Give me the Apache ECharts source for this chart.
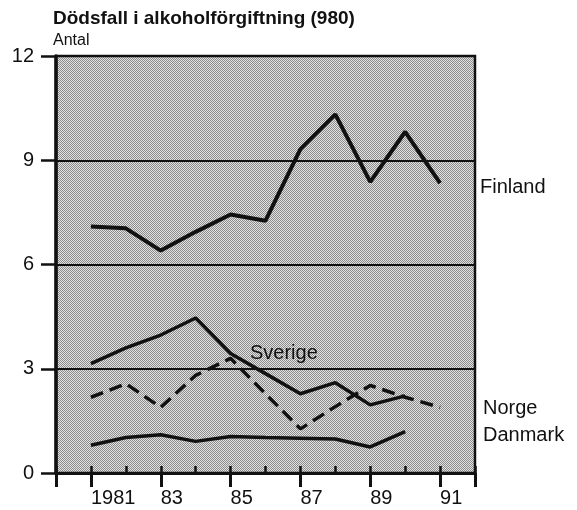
<!DOCTYPE html>
<html>
<head>
<meta charset="utf-8">
<script src="https://cdn.jsdelivr.net/npm/echarts@6/dist/echarts.min.js"></script>
<style>
html,body{margin:0;padding:0;background:#fff;}
#c{width:577px;height:510px;}
</style>
</head>
<body>
<div id="c"></div>
<script>
// ---- data ----
const years   = [1981, 1982, 1983, 1984, 1985, 1986, 1987, 1988, 1989, 1990, 1991];
const finland = [7.09, 7.04, 6.40, 6.94, 7.44, 7.26, 9.32, 10.32, 8.38, 9.82, 8.34];
const sverige = [3.15, 3.60, 3.97, 4.46, 3.44, 2.86, 2.28, 2.60, 1.96, 2.22, null];
const norge   = [2.18, 2.57, 1.89, 2.81, 3.30, 2.28, 1.27, 1.91, 2.52, 2.18, 1.89];
const danmark = [0.80, 1.02, 1.10, 0.91, 1.05, 1.02, 1.00, 0.98, 0.75, 1.19, null];
const xTickLabels = {1981: '1981', 1983: '83', 1985: '85', 1987: '87', 1989: '89', 1991: '91'};
const yTicks = [0, 3, 6, 9, 12];
const titleText = 'Dödsfall i alkoholförgiftning (980)';
const unitText = 'Antal';

const FONT = 'Liberation Sans, Arial, Helvetica, sans-serif';

function pairs(vals) { return years.map((y, i) => [y, vals[i]]); }

// halftone-like background pattern
const pc = document.createElement('canvas');
pc.width = 4; pc.height = 4;
const pctx = pc.getContext('2d');
for (let i = 0; i < 4; i++) for (let j = 0; j < 4; j++) {
  pctx.fillStyle = ((i + j) % 2 === 0) ? '#8c8c8c' : '#e2e2e2';
  pctx.fillRect(i, j, 1, 1);
}

const chart = echarts.init(document.getElementById('c'), null, {renderer: 'canvas'});
const lineBase = {type: 'line', symbol: 'none', xAxisIndex: 0, yAxisIndex: 0, z: 5};
const oddTicks = Object.keys(xTickLabels).map(Number);

chart.setOption({
  animation: false,
  backgroundColor: '#ffffff',
  title: [
    {text: titleText, left: 53, top: 9, padding: 0, textStyle: {fontFamily: FONT, fontSize: 19, fontWeight: 'bold', color: '#111'}},
    {text: unitText, left: 53, top: 33, padding: 0, textStyle: {fontFamily: FONT, fontSize: 16, fontWeight: 'normal', color: '#111'}}
  ],
  grid: {
    left: 56, top: 56, width: 419, height: 417,
    show: true, borderColor: '#111', borderWidth: 2.5,
    backgroundColor: {image: pc, repeat: 'repeat'}
  },
  xAxis: [
    {
      type: 'value', min: 1980, max: 1992, interval: 1, position: 'bottom',
      axisLine: {show: true, lineStyle: {color: '#111', width: 3}},
      axisTick: {show: true, inside: true, length: 7, lineStyle: {color: '#111', width: 2.5}},
      axisLabel: {show: false},
      splitLine: {show: false}
    },
    {
      type: 'value', min: 1980, max: 1992, position: 'bottom',
      axisLine: {show: false},
      axisTick: {show: true, inside: false, length: 14, customValues: [1980].concat(oddTicks, [1992]), lineStyle: {color: '#111', width: 3}},
      axisLabel: {
        show: true, customValues: oddTicks, margin: 15, align: 'left',
        fontFamily: FONT, fontSize: 20, color: '#111',
        formatter: v => xTickLabels[v] || ''
      },
      splitLine: {show: false}
    }
  ],
  yAxis: {
    type: 'value', min: 0, max: 12, interval: 3,
    axisLine: {show: true, lineStyle: {color: '#111', width: 3.5}},
    axisTick: {show: true, inside: false, length: 15, lineStyle: {color: '#111', width: 2.5}},
    axisLabel: {margin: 22, fontFamily: FONT, fontSize: 20, color: '#111',
      formatter: v => yTicks.indexOf(v) >= 0 ? String(v) : ''},
    splitLine: {show: true, lineStyle: {color: '#111', width: 2}}
  },
  series: [
    Object.assign({}, lineBase, {name: 'Finland', data: pairs(finland), lineStyle: {color: '#111', width: 4}}),
    Object.assign({}, lineBase, {name: 'Sverige', data: pairs(sverige), lineStyle: {color: '#111', width: 3.5}}),
    Object.assign({}, lineBase, {name: 'Norge', data: pairs(norge), lineStyle: {color: '#111', width: 3.5, type: [13, 7]}}),
    Object.assign({}, lineBase, {name: 'Danmark', data: pairs(danmark), lineStyle: {color: '#111', width: 3.5}})
  ],
  graphic: [
    {type: 'text', left: 480, top: 177, style: {text: 'Finland', font: '20px ' + FONT, fill: '#111'}},
    {type: 'text', left: 250, top: 343, z: 10, style: {text: 'Sverige', font: '20px ' + FONT, fill: '#111'}},
    {type: 'text', left: 483, top: 398, style: {text: 'Norge', font: '20px ' + FONT, fill: '#111'}},
    {type: 'text', left: 483, top: 425, style: {text: 'Danmark', font: '20px ' + FONT, fill: '#111'}}
  ]
});
</script>
</body>
</html>
